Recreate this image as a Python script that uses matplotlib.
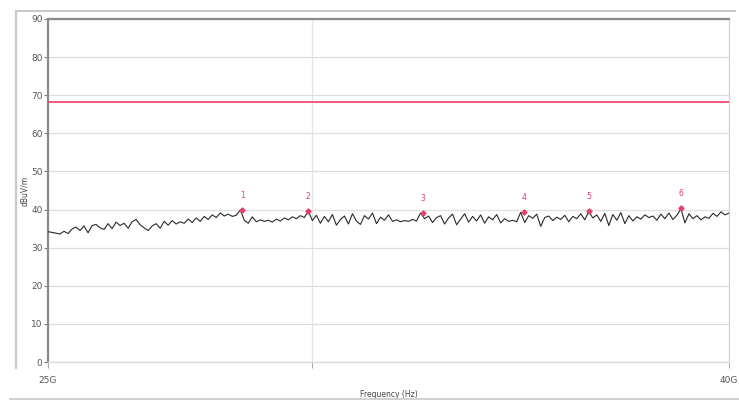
import matplotlib
matplotlib.use("Agg")
import matplotlib.pyplot as plt
import numpy as np
from matplotlib.lines import Line2D
from matplotlib.ticker import FixedLocator, NullLocator

# sweep 25 GHz .. 40 GHz, log axis
f_start = 25e9
f_stop = 40e9

trace = [
    34.2, 34.0, 33.8, 33.6, 34.3, 33.7, 34.9, 35.4, 34.5, 35.7,
    33.9, 35.8, 36.1, 35.2, 34.8, 36.3, 35.0, 36.7, 35.8, 36.4,
    35.1, 36.8, 37.4, 36.0, 35.2, 34.5, 35.7, 36.3, 35.1, 36.9,
    35.9, 37.1, 36.2, 36.8, 36.4, 37.5, 36.6, 37.8, 36.9, 38.2,
    37.4, 38.6, 37.9, 39.1, 38.3, 38.8, 38.2, 38.5, 39.9, 37.2,
    36.4, 38.1, 36.8, 37.3, 36.9, 37.2, 36.7, 37.5, 37.0, 37.8,
    37.3, 38.1, 37.6, 38.4, 37.9, 39.6, 37.1, 38.5, 36.4, 38.2,
    36.8, 38.7, 35.9, 37.4, 38.3, 36.2, 38.9, 37.0, 36.1, 38.4,
    37.5, 39.1, 36.3, 38.0, 37.2, 38.6, 36.9, 37.3, 36.8, 37.1,
    36.9, 37.4, 37.0, 39.1, 37.6, 38.3, 36.6, 37.9, 38.4, 36.2,
    37.8, 38.8, 36.0, 37.5, 38.9, 36.7, 38.2, 37.0, 38.6, 36.4,
    38.1, 37.3, 38.7, 36.5, 37.6, 36.9, 37.2, 36.8, 39.3, 36.6,
    38.4, 37.7, 38.8, 35.6, 37.9, 38.3, 37.1, 38.0, 37.4, 38.5,
    36.8, 38.2, 37.6, 38.9, 37.3, 39.5, 37.8, 38.6, 36.9, 39.0,
    35.8, 38.7, 37.2, 39.2, 36.3, 38.4, 37.0, 38.1, 37.5, 38.6,
    37.9, 38.3, 37.2, 38.8, 37.6, 39.1, 37.4, 38.5, 40.2, 36.5,
    38.9, 37.6, 38.4, 37.3, 38.1, 37.7, 39.0, 38.2, 39.4, 38.6,
    39.1,
]

limit_db = 68.2

# peak markers
marker_ids = ["1", "2", "3", "4", "5", "6"]
marker_freq = [28.59e9, 29.92e9, 32.39e9, 34.72e9, 36.31e9, 38.69e9]
marker_db = [40.0, 39.7, 39.2, 39.4, 39.6, 40.3]

freqs = np.geomspace(f_start, f_stop, len(trace))

fig = plt.figure(figsize=(7.39, 4.01), dpi=100)
ax = fig.add_axes([48 / 739, 39 / 401, 681 / 739, 343 / 401])

# faint scanned-page frame
frame_c = "#c8c8c8"
fig.add_artist(Line2D([16 / 739, 16 / 739], [1 - 368 / 401, 1 - 11 / 401],
                      transform=fig.transFigure, color=frame_c, lw=1.6))
fig.add_artist(Line2D([16 / 739, 735 / 739], [1 - 11 / 401, 1 - 11 / 401],
                      transform=fig.transFigure, color=frame_c, lw=1.4))
fig.add_artist(Line2D([10 / 739, 739 / 739], [1 - 399 / 401, 1 - 399 / 401],
                      transform=fig.transFigure, color=frame_c, lw=1.2))

ax.set_xscale("log")
ax.set_xlim(f_start, f_stop)
ax.set_ylim(0, 90)

ax.yaxis.set_major_locator(FixedLocator(np.arange(0, 91, 10)))
ax.yaxis.set_minor_locator(NullLocator())
ax.xaxis.set_major_locator(FixedLocator([25e9, 30e9, 40e9]))
ax.xaxis.set_minor_locator(NullLocator())
ax.set_xticklabels(["25G", "", "40G"])

ax.grid(axis="y", color="#dedede", lw=0.9)
ax.grid(axis="x", color="#e4e4e4", lw=0.9)
ax.set_axisbelow(True)

ax.axhline(limit_db, color="#ee3f66", lw=1.2, zorder=3)
ax.plot(freqs, trace, color="#2a2a2a", lw=0.8, zorder=4)

ax.plot(marker_freq, marker_db, linestyle="none", marker="D", ms=2.6,
        color="#e0406a", zorder=5)
for mid, mf, md in zip(marker_ids, marker_freq, marker_db):
    ax.text(mf, md + 3.8, mid, color="#e0406a", fontsize=5.5,
            ha="center", va="center", zorder=5)

for side in ("left", "top"):
    ax.spines[side].set_color("#8a8a8a")
    ax.spines[side].set_linewidth(1.6)
ax.spines["right"].set_color("#d0d0d0")
ax.spines["bottom"].set_color("#d8d8d8")
ax.spines["bottom"].set_linewidth(0.9)

ax.tick_params(axis="y", labelsize=6.5, labelcolor="#555555", color="#777777",
               length=3, width=0.8, pad=1)
ax.tick_params(axis="x", labelsize=6.5, labelcolor="#555555", color="#999999",
               length=4, width=0.6, pad=6)

ax.set_xlabel("Frequency (Hz)", fontsize=5.5, color="#444444", labelpad=4)
ax.set_ylabel("dBuV/m", fontsize=5.5, color="#444444", labelpad=2)
ax.yaxis.set_label_coords(-0.027, 0.5)

fig.savefig("out.png", dpi=100)
